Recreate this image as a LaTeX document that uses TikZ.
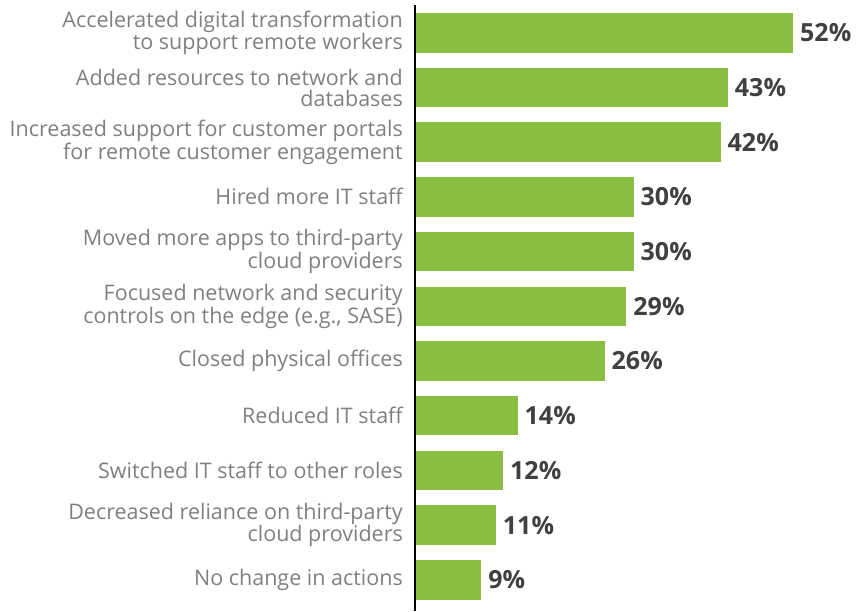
\documentclass[tikz,border=0pt]{standalone}
\usepackage{fontspec}
\setmainfont{Open Sans}
\usepackage{xcolor}
\usetikzlibrary{positioning}
\definecolor{barcolor}{RGB}{138, 190, 67}
\definecolor{labelgray}{RGB}{128, 128, 128}
\definecolor{valuegray}{RGB}{64, 64, 64}

\begin{document}
\begin{tikzpicture}[x=1pt,y=1pt,
    bar/.style={fill=barcolor,draw=none,inner sep=0pt,outer sep=0pt,minimum height=39.5pt,anchor=west},
    lab/.style={anchor=east,align=right,text=labelgray,inner sep=0pt,font=\fontsize{21.5}{21}\selectfont},
    val/.style={text=valuegray,inner sep=0pt,font=\fontsize{25}{28}\selectfont\bfseries}]
  \useasboundingbox (0,0) rectangle (856,-611);
  % bars, labels and values
  \foreach \v/\t [count=\i from 0] in {
      52/{Accelerated digital transformation\\to support remote workers},
      43/{Added resources to network and\\databases},
      42/{Increased support for customer portals\\for remote customer engagement},
      30/{Hired more IT staff},
      30/{Moved more apps to third-party\\cloud providers},
      29/{Focused network and security\\controls on the edge (e.g., SASE)},
      26/{Closed physical offices},
      14/{Reduced IT staff},
      12/{Switched IT staff to other roles},
      11/{Decreased reliance on third-party\\cloud providers},
      9/{No change in actions}}
  {
    \node[bar,minimum width=\v*7.25pt] (bar-\i) at (416,-32.75-54.7*\i) {};
    \node[lab] (lab-\i) at (403,-32.75-54.7*\i) {\t};
    \node[val,right=7pt of bar-\i] (val-\i) {\v\%};
  }
  % axis
  \coordinate (axtop) at (415,-5);
  \coordinate (axbot) at (415,-611);
  \draw[line width=1.2pt] (axtop) -- (axbot);
\end{tikzpicture}
\end{document}
